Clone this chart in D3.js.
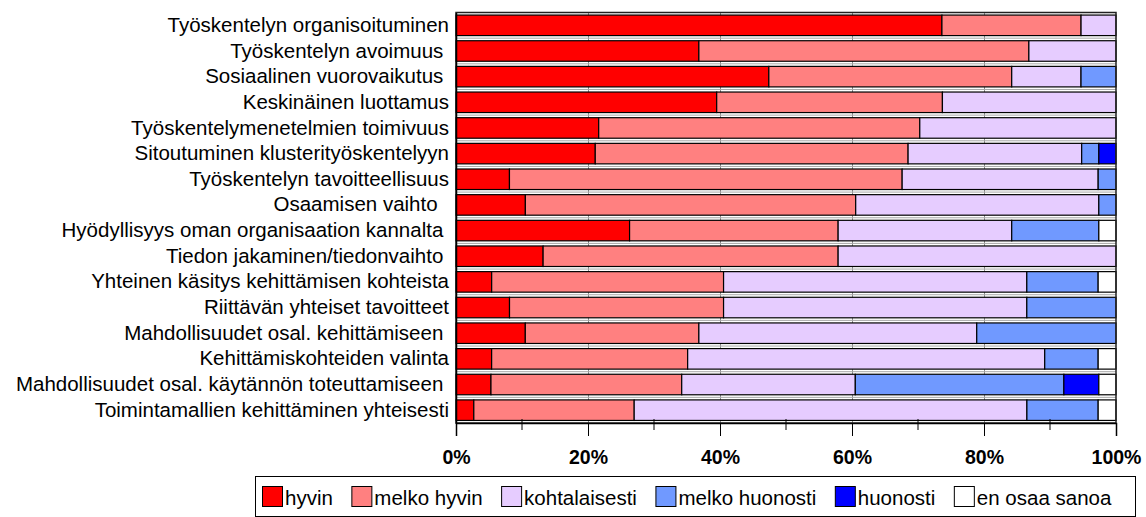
<!DOCTYPE html>
<html>
<head>
<meta charset="utf-8">
<script src="https://cdn.jsdelivr.net/npm/d3@7"></script>
<style>
  html, body { margin: 0; padding: 0; background: #fff; }
  svg { display: block; font-family: "Liberation Sans", Arial, sans-serif; }
  .cat text { white-space: pre; }
</style>
</head>
<body>
<svg id="chart" width="1146" height="517"></svg>
<script>
// Statements rated by respondents (top to bottom)
const categories = [
  "Työskentelyn organisoituminen",
  "Työskentelyn avoimuus ",
  "Sosiaalinen vuorovaikutus ",
  "Keskinäinen luottamus",
  "Työskentelymenetelmien toimivuus",
  "Sitoutuminen klusterityöskentelyyn",
  "Työskentelyn tavoitteellisuus",
  "Osaamisen vaihto  ",
  "Hyödyllisyys oman organisaation kannalta ",
  "Tiedon jakaminen/tiedonvaihto ",
  "Yhteinen käsitys kehittämisen kohteista",
  "Riittävän yhteiset tavoitteet",
  "Mahdollisuudet osal. kehittämiseen ",
  "Kehittämiskohteiden valinta",
  "Mahdollisuudet osal. käytännön toteuttamiseen ",
  "Toimintamallien kehittäminen yhteisesti"
];

// Answer shares per statement, percent
const hyvin          = [73.7, 36.8, 47.4, 39.5, 21.6, 21.1,  8.1, 10.5, 26.3, 13.2,  5.4,  8.1, 10.5,  5.4,  5.3,  2.7];
const melkoHyvin     = [21.1, 50.0, 36.8, 34.2, 48.6, 47.4, 59.5, 50.0, 31.6, 44.7, 35.1, 32.4, 26.3, 29.7, 28.9, 24.3];
const kohtalaisesti  = [ 5.3, 13.2, 10.5, 26.3, 29.7, 26.3, 29.7, 36.8, 26.3, 42.1, 45.9, 45.9, 42.1, 54.1, 26.3, 59.5];
const melkoHuonosti  = [ 0.0,  0.0,  5.3,  0.0,  0.0,  2.6,  2.7,  2.6, 13.2,  0.0, 10.8, 13.5, 21.1,  8.1, 31.6, 10.8];
const huonosti       = [ 0.0,  0.0,  0.0,  0.0,  0.0,  2.6,  0.0,  0.0,  0.0,  0.0,  0.0,  0.0,  0.0,  0.0,  5.3,  0.0];
const enOsaaSanoa    = [ 0.0,  0.0,  0.0,  0.0,  0.0,  0.0,  0.0,  0.0,  2.6,  0.0,  2.7,  0.0,  0.0,  2.7,  2.6,  2.7];

const seriesNames  = ["hyvin", "melko hyvin", "kohtalaisesti", "melko huonosti", "huonosti", "en osaa sanoa"];
const seriesValues = [hyvin, melkoHyvin, kohtalaisesti, melkoHuonosti, huonosti, enOsaaSanoa];
const seriesColors = ["#ff0000", "#ff8080", "#e6ccff", "#7099ff", "#0000ff", "#ffffff"];

const tickValues = [0, 0.2, 0.4, 0.6, 0.8, 1];
const minorTickValues = [0.1, 0.3, 0.5, 0.7, 0.9];

// Rows for the stack layout
const rows = categories.map((c, i) => {
  const r = { category: c };
  seriesNames.forEach((s, j) => { r[s] = seriesValues[j][i]; });
  return r;
});

const stacked = d3.stack()
  .keys(seriesNames)
  .offset(d3.stackOffsetExpand)(rows);

const svg = d3.select("#chart");
const plot = { left: 456, right: 1116, top: 12.5, bottom: 423 };

const x = d3.scaleLinear().domain([0, 1]).range([plot.left, plot.right]);
const y = d3.scaleBand()
  .domain(categories)
  .range([plot.top, plot.bottom])
  .paddingInner(0.2)
  .paddingOuter(0.1);

const color = d3.scaleOrdinal().domain(seriesNames).range(seriesColors);

// plot background
svg.append("rect")
  .attr("x", plot.left).attr("y", plot.top)
  .attr("width", plot.right - plot.left).attr("height", plot.bottom - plot.top)
  .attr("fill", "#fff");

// vertical gridlines
svg.append("g")
  .selectAll("line")
  .data(tickValues.slice(1, -1))
  .join("line")
  .attr("x1", d => Math.round(x(d)) + 0.5).attr("x2", d => Math.round(x(d)) + 0.5)
  .attr("y1", plot.top).attr("y2", plot.bottom)
  .attr("stroke", "#8c8c8c").attr("stroke-width", 1);

// horizontal separators between rows
const step = y.step();
svg.append("g")
  .selectAll("line")
  .data(d3.range(1, categories.length))
  .join("line")
  .attr("x1", plot.left).attr("x2", plot.right)
  .attr("y1", i => plot.top + i * step).attr("y2", i => plot.top + i * step)
  .attr("stroke", "#a8a8a8").attr("stroke-width", 1);

// stacked bars
svg.append("g")
  .selectAll("g")
  .data(stacked)
  .join("g")
  .attr("fill", d => color(d.key))
  .selectAll("rect")
  .data(d => d.filter(p => p[1] - p[0] > 0.0001))
  .join("rect")
  .attr("x", d => x(d[0]))
  .attr("y", d => y(d.data.category))
  .attr("width", d => x(d[1]) - x(d[0]))
  .attr("height", y.bandwidth())
  .attr("stroke", "#000")
  .attr("stroke-width", 1.2);

// plot frame
svg.append("rect")
  .attr("x", plot.left).attr("y", plot.top)
  .attr("width", plot.right - plot.left).attr("height", plot.bottom - plot.top)
  .attr("fill", "none")
  .attr("stroke", "#222").attr("stroke-width", 1.5);

// category axis
const yAxis = svg.append("g")
  .attr("class", "cat")
  .attr("transform", `translate(${plot.left},0)`)
  .call(d3.axisLeft(y).tickSize(0).tickPadding(7));
yAxis.select(".domain").attr("stroke", "#000").attr("stroke-width", 1.5);
yAxis.selectAll("text")
  .attr("font-size", "20.5px")
  .attr("font-family", "'Liberation Sans', Arial, sans-serif")
  .attr("fill", "#000");

// value axis
const xAxis = svg.append("g")
  .attr("transform", `translate(0,${plot.bottom})`)
  .call(d3.axisBottom(x).tickValues(tickValues).tickFormat(d3.format(".0%")).tickSize(13).tickPadding(14));
xAxis.select(".domain").attr("stroke", "#000").attr("stroke-width", 1.5);
xAxis.selectAll(".tick line").attr("stroke", "#000");
xAxis.selectAll("text")
  .attr("font-size", "19.5px")
  .attr("font-weight", "bold")
  .attr("font-family", "'Liberation Sans', Arial, sans-serif")
  .attr("fill", "#000");

// minor ticks crossing the axis
svg.append("g")
  .selectAll("line")
  .data(minorTickValues)
  .join("line")
  .attr("x1", d => x(d)).attr("x2", d => x(d))
  .attr("y1", plot.bottom - 4).attr("y2", plot.bottom + 7)
  .attr("stroke", "#000");

// legend
const legend = { x: 255, y: 476, h: 40, w: 880 };
svg.append("rect")
  .attr("x", legend.x + 0.5).attr("y", legend.y + 0.5)
  .attr("width", legend.w).attr("height", legend.h)
  .attr("fill", "#fff").attr("stroke", "#000").attr("stroke-width", 1);

const lg = svg.append("g");
let cursor = legend.x + 7;
seriesNames.forEach((name, i) => {
  const item = lg.append("g").attr("transform", `translate(${cursor},0)`);
  item.append("rect")
    .attr("x", 0.5).attr("y", legend.y + 10.5)
    .attr("width", 20).attr("height", 20)
    .attr("fill", seriesColors[i]).attr("stroke", "#000").attr("stroke-width", 1);
  const t = item.append("text")
    .attr("x", 23).attr("y", legend.y + 29)
    .attr("font-size", "20.5px")
    .attr("fill", "#000")
    .text(name);
  cursor += 23 + t.node().getComputedTextLength() + 18.5;
});
</script>
</body>
</html>
